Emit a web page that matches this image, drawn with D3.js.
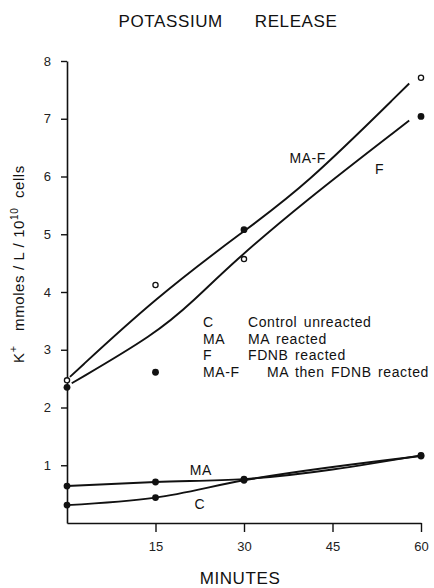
<!DOCTYPE html>
<html>
<head>
<meta charset="utf-8">
<script src="https://cdn.jsdelivr.net/npm/d3@7"></script>
<style>
    body { margin: 0; background: #fff; }
    svg { display: block; font-family: "Liberation Sans", Arial, sans-serif; }
</style>
</head>
<body>
<div id="chart"></div>
<script>

// measured points (minutes after start)
const minutes = [0, 15, 30, 60];
const cValues = [0.31, 0.44, 0.74, 1.16];
const maValues = [0.64, 0.71, 0.76, 1.17];
const fValues = [2.35, 2.61, 5.08, 7.04];
const mafValues = [2.47, 4.12, 4.57, 7.71];

// hand drawn smooth lines for F and MA-F
const mafCurveT = [0.5, 15, 30, 40, 58];
const mafCurveV = [2.53, 3.9, 5.06, 5.8, 7.61];
const fCurveT = [0.8, 15, 21.5, 28, 40, 58];
const fCurveV = [2.42, 3.27, 3.85, 4.5, 5.55, 6.97];

const xTicks = [15, 30, 45, 60];
const yTicks = [1, 2, 3, 4, 5, 6, 7, 8];

const legendCodes = ["C", "MA", "F", "MA-F"];
const legendNames = ["Control unreacted", "MA reacted", "FDNB reacted", "MA then FDNB reacted"];

const width = 434, height = 588;
const margin = {top: 61, right: 13, bottom: 65, left: 67};

const svg = d3.select("#chart").append("svg")
    .attr("width", width)
    .attr("height", height);

const x = d3.scaleLinear().domain([0, 60]).range([margin.left, width - margin.right]);
const y = d3.scaleLinear().domain([0, 8]).range([height - margin.bottom, margin.top]);

// axes
const xAxis = d3.axisBottom(x).tickValues(xTicks).tickSize(9).tickPadding(10).tickSizeOuter(0);
const yAxis = d3.axisLeft(y).tickValues(yTicks).tickSize(6).tickPadding(10).tickSizeOuter(0);

const gx = svg.append("g")
    .attr("transform", "translate(0," + y(0) + ")")
    .call(xAxis);
const gy = svg.append("g")
    .attr("transform", "translate(" + x(0) + ",0)")
    .call(yAxis);

[gx, gy].forEach(function (g) {
    g.select(".domain").attr("stroke", "#111").attr("stroke-width", 1.6);
    g.selectAll(".tick line").attr("stroke", "#111").attr("stroke-width", 1.4);
    g.selectAll(".tick text")
        .attr("fill", "#222")
        .style("font-size", "13px")
        .style("font-family", "'Liberation Sans', Arial, sans-serif");
});

// lines
const pts = (ts, vs) => ts.map((t, i) => [t, vs[i]]);

const smooth = d3.line()
    .x(d => x(d[0]))
    .y(d => y(d[1]))
    .curve(d3.curveBasis);

const thru = d3.line()
    .x(d => x(d[0]))
    .y(d => y(d[1]))
    .curve(d3.curveMonotoneX);

const lineStyle = function (p) {
    p.attr("fill", "none").attr("stroke", "#111").attr("stroke-width", 1.9);
};

svg.append("path").attr("d", smooth(pts(mafCurveT, mafCurveV))).call(lineStyle);
svg.append("path").attr("d", smooth(pts(fCurveT, fCurveV))).call(lineStyle);
svg.append("path").attr("d", thru(pts(minutes, cValues))).call(lineStyle);
svg.append("path").attr("d", thru(pts(minutes, maValues))).call(lineStyle);

// points
const filled = [cValues, maValues, fValues];
filled.forEach(function (vals) {
    svg.append("g").selectAll("circle")
        .data(pts(minutes, vals))
        .enter().append("circle")
        .attr("cx", d => x(d[0]))
        .attr("cy", d => y(d[1]))
        .attr("r", 3.4)
        .attr("fill", "#111");
});

svg.append("g").selectAll("circle")
    .data(pts(minutes, mafValues))
    .enter().append("circle")
    .attr("cx", d => x(d[0]))
    .attr("cy", d => y(d[1]))
    .attr("r", 2.6)
    .attr("fill", "#fff")
    .attr("stroke", "#111")
    .attr("stroke-width", 1.3);

// line labels
const labelStyle = function (t) {
    t.style("font-size", "14px").attr("fill", "#111").style("letter-spacing", "0.6px");
};
svg.append("text").attr("x", 326).attr("y", 163).attr("text-anchor", "end").text("MA-F").call(labelStyle);
svg.append("text").attr("x", x(52.2)).attr("y", y(6.05)).text("F").call(labelStyle);
svg.append("text").attr("x", x(22.7)).attr("y", y(0.83)).attr("text-anchor", "middle").text("MA").call(labelStyle);
svg.append("text").attr("x", x(22.5)).attr("y", y(0.24)).attr("text-anchor", "middle").text("C").call(labelStyle);

// legend
const legend = svg.append("g").attr("transform", "translate(203,327)");
legendCodes.forEach(function (c, i) {
    legend.append("text").attr("x", 0).attr("y", i * 16.7).text(c).call(labelStyle);
    legend.append("text").attr("x", i === 3 ? 64 : 45).attr("y", i * 16.7)
        .style("word-spacing", "2px")
        .text(legendNames[i]).call(labelStyle);
});

// title
svg.append("text")
    .attr("x", 228).attr("y", 27)
    .attr("text-anchor", "middle")
    .style("font-size", "17px")
    .style("letter-spacing", "0.6px")
    .style("white-space", "pre")
    .attr("fill", "#111")
    .text("POTASSIUM      RELEASE");

// x label
svg.append("text")
    .attr("x", 240).attr("y", 584)
    .attr("text-anchor", "middle")
    .style("font-size", "17px")
    .style("letter-spacing", "0.6px")
    .attr("fill", "#111")
    .text("MINUTES");

// y label
const yl = svg.append("text")
    .attr("transform", "translate(24,264) rotate(-90)")
    .attr("text-anchor", "middle")
    .style("font-size", "15px")
    .style("letter-spacing", "0.6px")
    .style("white-space", "pre")
    .attr("fill", "#111");
yl.append("tspan").text("K");
yl.append("tspan").attr("dy", -7).style("font-size", "11px").text("+");
yl.append("tspan").attr("dy", 7).text("   mmoles / L / 10");
yl.append("tspan").attr("dy", -6).style("font-size", "10px").text("10");
yl.append("tspan").attr("dy", 6).text("  cells");

</script>
</body>
</html>
